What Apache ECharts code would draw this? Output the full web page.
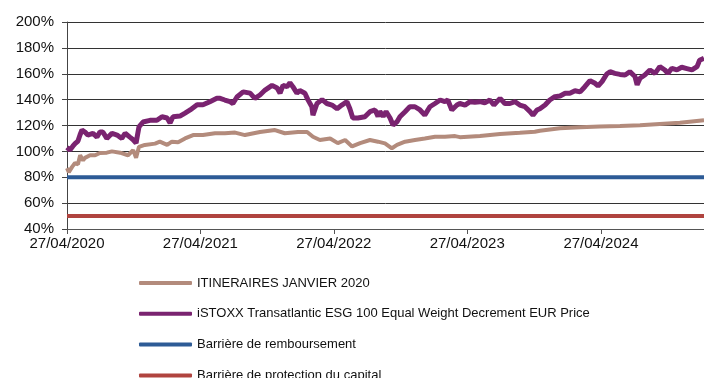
<!DOCTYPE html>
<html>
<head>
<meta charset="utf-8">
<script src="https://cdn.jsdelivr.net/npm/echarts@6/dist/echarts.min.js"></script>
<style>
  html, body { margin: 0; padding: 0; background: #ffffff; }
  #chart { width: 704px; height: 378px; }
</style>
</head>
<body>
<div id="chart"></div>
<script>
// Observation dates are stored as day offsets from 27/04/2020.
const startDate = '2020-04-27';
const lastDay = 1743;

const itineraireDays = [0, 5, 14, 22, 30, 36, 44, 49, 63, 77, 90, 109, 123, 145, 167, 181, 189, 197, 213, 241, 254, 274, 287, 304, 323, 345, 372, 405, 432, 460, 487, 528, 569, 596, 632, 657, 673, 692, 720, 741, 761, 780, 802, 829, 851, 870, 889, 903, 925, 952, 979, 1007, 1034, 1062, 1075, 1130, 1185, 1239, 1280, 1294, 1349, 1404, 1458, 1513, 1568, 1622, 1677, 1743];
const itineraireValues = [87, 84, 88, 91, 90, 97, 93, 95, 97, 97, 98.7, 99, 100, 99, 97, 101, 95, 103.5, 105, 106, 107.5, 105, 107.5, 107, 110, 112.6, 112.6, 114, 114, 114.5, 112.6, 115, 116.5, 114, 115, 115, 111.3, 108.8, 110, 106.4, 108.8, 103.8, 106.4, 108.8, 107.5, 106.2, 102.4, 105, 107.5, 108.8, 110, 111.3, 111.3, 111.8, 111, 111.9, 113.4, 114.4, 115.2, 116, 117.8, 118.6, 119.2, 119.6, 120.2, 121.2, 122.2, 124];

const istoxxDays = [0, 8, 16, 22, 30, 36, 41, 49, 57, 71, 82, 90, 98, 109, 123, 137, 150, 159, 172, 181, 189, 197, 208, 227, 246, 260, 274, 282, 290, 309, 323, 337, 356, 372, 391, 410, 419, 432, 446, 454, 465, 482, 501, 514, 528, 542, 561, 575, 583, 591, 602, 610, 618, 629, 637, 651, 659, 670, 673, 684, 698, 711, 725, 739, 752, 766, 774, 782, 796, 815, 829, 843, 851, 856, 865, 873, 884, 892, 903, 911, 925, 938, 952, 966, 979, 993, 1007, 1021, 1034, 1042, 1053, 1067, 1075, 1089, 1103, 1116, 1130, 1143, 1157, 1168, 1185, 1198, 1212, 1226, 1239, 1253, 1267, 1275, 1286, 1294, 1308, 1321, 1335, 1349, 1363, 1376, 1390, 1404, 1417, 1431, 1445, 1453, 1464, 1477, 1486, 1499, 1513, 1527, 1540, 1554, 1560, 1568, 1581, 1595, 1609, 1622, 1636, 1644, 1655, 1669, 1682, 1696, 1710, 1724, 1731, 1743];
const istoxxValues = [103, 101, 104, 106, 108, 113, 116.5, 115, 112.6, 114, 111, 115, 115, 110, 114, 112.6, 110, 114, 111, 109, 106.5, 119, 122.7, 124, 124, 126.8, 125.8, 122, 126.8, 127.3, 129.6, 132, 136, 136, 138.4, 141, 141, 139.7, 138.4, 137, 142, 146, 145, 141, 143.6, 147.4, 151, 149, 145, 151, 150, 153, 150, 145, 147, 145, 140, 134.5, 128, 137, 140, 137, 135.8, 133, 135.8, 138.4, 133, 125.8, 125.8, 126.8, 130.7, 132, 127, 131, 127, 130.7, 125.8, 120.4, 122.9, 126.8, 130.7, 134.5, 134.5, 132, 128, 134.5, 137, 139.7, 138.4, 139.7, 132, 135.8, 137, 135.8, 138.4, 138, 138.4, 137.5, 139.7, 135.8, 141, 137, 137, 138.4, 135.8, 134.5, 130.7, 128, 132, 133, 135.8, 139.7, 142.3, 142.8, 144.9, 145, 146.9, 146, 150, 154.6, 152.6, 150.5, 153.9, 159.8, 161.6, 160.3, 159.5, 159, 161.6, 157.9, 151.5, 156.5, 159, 162.9, 160.3, 165.5, 162.9, 160.3, 164.2, 163, 165, 164, 163, 165.5, 170.4, 172];

const barrierRedemption = 80;
const barrierCapital = 50;

const xTickLabels = ['27/04/2020', '27/04/2021', '27/04/2022', '27/04/2023', '27/04/2024'];
const yMin = 40, yMax = 200, yStep = 20;

const seriesNames = [
  'ITINERAIRES JANVIER 2020',
  'iSTOXX Transatlantic ESG 100 Equal Weight Decrement EUR Price',
  'Barrière de remboursement',
  'Barrière de protection du capital'
];
const seriesColors = ['#B38B7C', '#7A2370', '#2D5B96', '#B0443F'];

const DAY = 86400000;
const t0 = Date.parse(startDate + 'T00:00:00Z');
const parseLabel = s => {
  const [dd, mm, yy] = s.split('/').map(Number);
  return Math.round((Date.UTC(yy, mm - 1, dd) - t0) / DAY);
};
const pad = n => (n < 10 ? '0' : '') + n;
const fmtDay = d => {
  const dt = new Date(t0 + Math.round(d) * DAY);
  return pad(dt.getUTCDate()) + '/' + pad(dt.getUTCMonth() + 1) + '/' + dt.getUTCFullYear();
};
const tickDays = xTickLabels.map(parseLabel);
const pairs = (days, vals) => days.map((d, i) => [d, vals[i]]);
const flat = v => [[0, v], [lastDay, v]];

const chart = echarts.init(document.getElementById('chart'), null, { renderer: 'canvas' });
const font = '"Liberation Sans", Arial, sans-serif';

chart.setOption({
  animation: false,
  backgroundColor: '#ffffff',
  textStyle: { fontFamily: font },
  grid: { left: 67, right: 0, top: 22, bottom: 149, containLabel: false },
  legend: {
    orient: 'vertical',
    left: 139,
    top: 275,
    height: 140,
    padding: 0,
    itemWidth: 53,
    itemHeight: 4,
    itemGap: 14.8,
    icon: 'roundRect',
    data: seriesNames,
    textStyle: { fontFamily: font, fontSize: 13, color: '#111', lineHeight: 16 }
  },
  xAxis: {
    type: 'value',
    min: 0,
    max: lastDay,
    axisLine: { show: true, lineStyle: { color: '#555', width: 1 } },
    axisTick: { show: true, length: 5, lineStyle: { color: '#555' }, customValues: tickDays },
    axisLabel: {
      customValues: tickDays,
      formatter: v => fmtDay(v),
      color: '#111',
      fontSize: 15,
      fontFamily: font,
      margin: 7
    },
    splitLine: { show: false }
  },
  yAxis: {
    type: 'value',
    min: yMin,
    max: yMax,
    interval: yStep,
    axisLine: { show: true, lineStyle: { color: '#444', width: 1 } },
    axisTick: { show: true, length: 5, lineStyle: { color: '#444' } },
    axisLabel: { formatter: '{value}%', color: '#111', fontSize: 15, fontFamily: font, margin: 13 },
    splitLine: { show: true, lineStyle: { color: '#333', width: 1 } }
  },
  series: [
    {
      name: seriesNames[0], type: 'line', showSymbol: false, symbol: 'none',
      data: pairs(itineraireDays, itineraireValues),
      lineStyle: { color: seriesColors[0], width: 4 }, itemStyle: { color: seriesColors[0] }, z: 3
    },
    {
      name: seriesNames[1], type: 'line', showSymbol: false, symbol: 'none',
      data: pairs(istoxxDays, istoxxValues),
      lineStyle: { color: seriesColors[1], width: 5 }, itemStyle: { color: seriesColors[1] }, z: 4
    },
    {
      name: seriesNames[2], type: 'line', showSymbol: false, symbol: 'none',
      data: flat(barrierRedemption),
      lineStyle: { color: seriesColors[2], width: 4 }, itemStyle: { color: seriesColors[2] }, z: 2
    },
    {
      name: seriesNames[3], type: 'line', showSymbol: false, symbol: 'none',
      data: flat(barrierCapital),
      lineStyle: { color: seriesColors[3], width: 4 }, itemStyle: { color: seriesColors[3] }, z: 2
    }
  ]
});
</script>
</body>
</html>
